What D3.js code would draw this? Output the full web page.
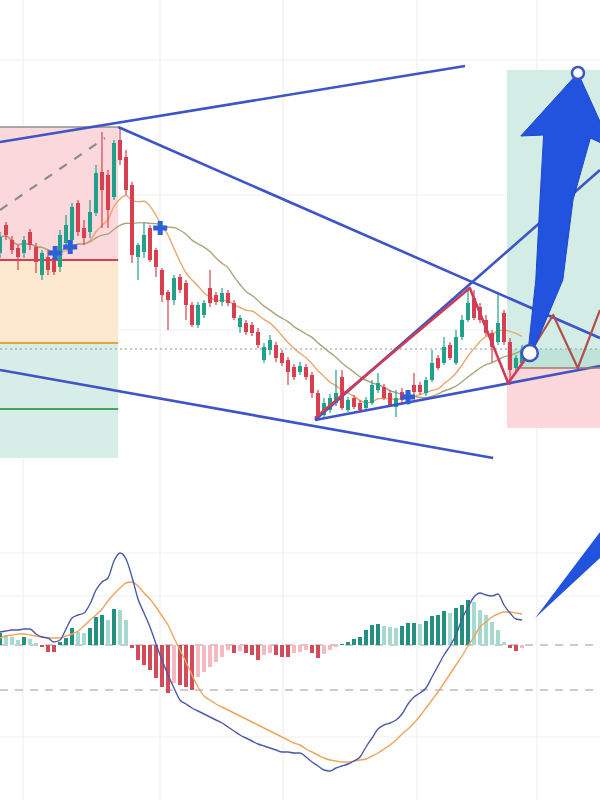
<!DOCTYPE html>
<html><head><meta charset="utf-8">
<script src="https://cdn.jsdelivr.net/npm/d3@7"></script>
<style>html,body{margin:0;padding:0;background:#fff;} svg{display:block;}</style>
</head><body><svg id="c" width="600" height="800"></svg>
<script>
// ---- candle data (price units) ----
const opens  = [247,275,260,252,247,268,253,225,243,242,233,257,260,297,272,268,287,328,325,303,360,343,315,243,248,272,250,230,208,200,223,217,195,175,185,212,205,198,207,197,173,177,175,168,140,150,155,147,140,133,128,133,125,107,85,90,97,123,90,102,97,92,97,110,113,107,93,108,98,115,115,107,120,142,137,155,137,163,180,202,193,180,167,158,187,158,132,137];
const highs  = [268,278,264,255,264,271,257,250,250,245,270,285,297,300,280,300,335,368,330,360,373,350,318,257,277,275,252,232,210,225,226,220,198,198,200,230,208,212,210,200,185,180,178,172,157,165,158,150,143,136,138,136,128,110,102,106,130,130,103,105,100,103,120,127,116,110,110,112,110,127,118,123,150,145,163,158,170,185,212,210,197,185,170,207,190,162,145,155];
const lows   = [242,260,246,230,242,250,227,220,225,225,228,252,257,264,255,262,284,272,272,300,335,305,237,220,242,238,223,198,170,195,207,180,173,172,182,193,195,194,194,180,167,165,164,152,137,145,138,134,115,120,125,120,102,82,82,87,94,90,88,91,88,90,95,107,100,93,83,96,95,104,105,104,118,130,135,140,135,160,178,180,177,164,138,155,155,115,128,134];
const closes = [263,265,250,243,260,255,238,247,230,228,265,275,293,268,262,288,327,310,290,357,340,310,245,255,265,240,233,205,200,222,210,195,175,195,197,197,198,207,197,182,182,168,167,155,153,160,142,137,128,123,134,123,107,85,97,102,107,92,100,93,90,100,115,117,102,95,102,100,107,108,108,120,137,132,153,142,163,180,197,182,180,167,153,177,158,130,142,150];
const maPeriods = [10, 20];

// ---- MACD data ----
const dif  = [13,14,15,15,16,16,11,8,7,3,5,16,27,30,32,41,55,63,67,84,92,86,68,46,32,18,1,-15,-30,-43,-55,-59,-63,-66,-69,-72,-75,-78,-82,-86,-90,-93,-96,-99,-101,-103,-105,-107,-107,-108,-108,-112,-117,-121,-125,-126,-123,-121,-119,-116,-112,-102,-93,-84,-80,-78,-75,-69,-59,-52,-48,-43,-32,-21,-10,-1,10,26,38,48,52,50,49,51,40,32,26,25];
const dea  = [7,9,10,11,11,10,9,8,7,7,7,9,11,14,19,25,30,36,44,51,57,62,63,59,52,46,38,29,20,7,-5,-17,-30,-42,-51,-55,-59,-62,-65,-68,-71,-74,-77,-80,-83,-86,-89,-92,-95,-98,-100,-104,-107,-110,-113,-115,-116,-117,-117,-116,-115,-114,-111,-108,-104,-100,-95,-89,-84,-78,-71,-63,-55,-47,-38,-29,-20,-11,-1,8,18,23,28,31,33,33,32,31];
const hist = [12,10,8,5,8,6,2,-2,-7,-7,3,7,17,13,12,17,28,30,25,36,35,25,-3,-15,-20,-25,-33,-42,-48,-38,-40,-42,-45,-32,-27,-22,-17,-12,-5,-8,-6,-8,-10,-15,-10,-8,-10,-12,-12,-8,-7,-5,-8,-13,-9,-5,-2,1,3,6,8,15,20,21,19,18,17,19,22,22,21,24,29,30,34,32,37,40,45,43,35,30,23,15,3,-3,-6,-3];
const macdLevels = [0, -45];

// ---- annotation anchors [index, price] ----
const gridX = [3.83, 26.67, 47.17, 69.5, 89.5];
const gridP = [440, 305, 170];
const gridM = [92, 49, -92];
const leftZoneX = [-5, 19.7];
const leftZones = [[240,373,"#fbd8db"],[157,240,"#fde9cf"],[42,157,"#d7ede7"]];
const leftLevels = [[373,"#8f8f8f",1.6],[240,"#d8404e",2.2],[157,"#eaa23a",2.2],[91,"#47a65a",2]];
const rightZoneX = [84.5, 105];
const rightZones = [[132,430,"#d4ece6"],[132,151,"#bfe3d9"],[72,132,"#fbd6da"]];
const dottedLevel = 151;
const blueLines = [
  [[0,358],[77.5,434]],
  [[19.7,373],[100,162]],
  [[0,130],[82.2,42]],
  [[52.5,80],[100,134]],
  [[52.5,80],[100,330]]
];
const dashedLine = [[0,290],[17.5,362]];
const redZig = [[52.5,82],[78.3,212],[84.7,117],[88.3,147]];
const brownZig = [[88.3,147],[92.2,185],[96.3,132],[100,190]];
const baseLine = [[86.7,132],[100,132]];
const crosses = [[9.2,247],[11.7,253],[26.7,272],[68,103]];
const arrowPoly = [[96.33,427],[102,352],[98.4,362],[95.5,300],[93.8,220],[88.9,150],[88.0,148],[89.3,220],[90.0,300],[90.6,365],[86.8,364]];
const circles = [[88.3,147,8],[96.33,427,6]];
const macdWedge = [[89.2,27],[100,113],[100,87]];

// ---- scales ----
const svg = d3.select("#c");
const x = d3.scaleLinear().domain([0,100]).range([0,600]);
const yP = d3.scaleLinear().domain([0,500]).range([500,0]);
const yM = d3.scaleLinear().domain([0,100]).range([645,545]);

svg.append("rect").attr("width",600).attr("height",800).attr("fill","#fff");
const defs = svg.append("defs");
defs.append("clipPath").attr("id","cp").append("rect").attr("x",0).attr("y",0).attr("width",600).attr("height",485);
defs.append("clipPath").attr("id","cm").append("rect").attr("x",0).attr("y",490).attr("width",600).attr("height",310);

// grid
const g = svg.append("g");
g.selectAll(".gx").data(gridX).join("line").attr("x1",d=>x(d)).attr("x2",d=>x(d)).attr("y1",0).attr("y2",800).attr("stroke","#ececec").attr("stroke-width",1);
g.selectAll(".gp").data(gridP).join("line").attr("x1",0).attr("x2",600).attr("y1",d=>yP(d)).attr("y2",d=>yP(d)).attr("stroke","#efefef");
g.selectAll(".gm").data(gridM).join("line").attr("x1",0).attr("x2",600).attr("y1",d=>yM(d)).attr("y2",d=>yM(d)).attr("stroke","#efefef");

const P = svg.append("g").attr("clip-path","url(#cp)");
// zones
P.selectAll(".lz").data(leftZones).join("rect")
  .attr("x",x(leftZoneX[0])).attr("width",x(leftZoneX[1])-x(leftZoneX[0]))
  .attr("y",d=>yP(d[1])).attr("height",d=>yP(d[0])-yP(d[1])).attr("fill",d=>d[2]);
P.selectAll(".rz").data(rightZones).join("rect")
  .attr("x",x(rightZoneX[0])).attr("width",x(rightZoneX[1])-x(rightZoneX[0]))
  .attr("y",d=>yP(d[1])).attr("height",d=>yP(d[0])-yP(d[1])).attr("fill",d=>d[2]);
P.selectAll(".ll").data(leftLevels).join("line")
  .attr("x1",x(leftZoneX[0])).attr("x2",x(leftZoneX[1]))
  .attr("y1",d=>yP(d[0])).attr("y2",d=>yP(d[0])).attr("stroke",d=>d[1]).attr("stroke-width",d=>d[2]);
P.append("line").attr("x1",0).attr("x2",600).attr("y1",yP(dottedLevel)).attr("y2",yP(dottedLevel))
  .attr("stroke","#8a9a9a").attr("stroke-width",1.2).attr("stroke-dasharray","2,3");

// moving averages
function sma(n){ return closes.map((c,i)=>{ const s=Math.max(0,i-n+1); const a=closes.slice(s,i+1); return d3.mean(a); }); }
const maColors = ["#eca66a","#a9a47e"];
const lineP = d3.line().x((d,i)=>x(i)).y(d=>yP(d)).curve(d3.curveMonotoneX);
maPeriods.forEach((n,k)=>{
  P.append("path").attr("d",lineP(sma(n))).attr("fill","none").attr("stroke",maColors[k]).attr("stroke-width",1.4);
});

// candles
const up="#21a08c", dn="#d9404f";
const cg = P.append("g");
const idx = d3.range(opens.length);
cg.selectAll(".w").data(idx).join("line")
  .attr("x1",i=>x(i)).attr("x2",i=>x(i)).attr("y1",i=>yP(highs[i])).attr("y2",i=>yP(lows[i]))
  .attr("stroke",i=>closes[i]>=opens[i]?up:dn).attr("stroke-width",1.2);
cg.selectAll(".b").data(idx).join("rect")
  .attr("x",i=>x(i)-2).attr("width",4)
  .attr("y",i=>yP(Math.max(opens[i],closes[i])))
  .attr("height",i=>Math.max(1.5,Math.abs(yP(opens[i])-yP(closes[i]))))
  .attr("fill",i=>closes[i]>=opens[i]?up:dn);

// trend lines
const lp = d3.line().x(d=>x(d[0])).y(d=>yP(d[1]));
P.append("path").attr("d",lp(dashedLine)).attr("fill","none").attr("stroke","#8c8c8c").attr("stroke-width",2.2).attr("stroke-dasharray","9,9");
blueLines.forEach(l=>P.append("path").attr("d",lp(l)).attr("fill","none").attr("stroke","#3d55c6").attr("stroke-width",2.6));
P.append("path").attr("d",lp(baseLine)).attr("fill","none").attr("stroke","#a07a6a").attr("stroke-width",1.5);
P.append("path").attr("d",lp(redZig)).attr("fill","none").attr("stroke","#cf3c57").attr("stroke-width",2.6).attr("stroke-linejoin","round");
P.append("path").attr("d",lp(brownZig)).attr("fill","none").attr("stroke","#b0504c").attr("stroke-width",2.2).attr("stroke-linejoin","round");

// crosses
crosses.forEach(c=>{
  const cx=x(c[0]), cy=yP(c[1]);
  P.append("rect").attr("x",cx-7).attr("y",cy-2.5).attr("width",14).attr("height",5).attr("fill","#2f5fd6");
  P.append("rect").attr("x",cx-2.5).attr("y",cy-7).attr("width",5).attr("height",14).attr("fill","#2f5fd6");
});

// arrow
P.append("path").attr("d",lp(arrowPoly)+"Z").attr("fill","#2153df").attr("stroke","#1d48c8").attr("stroke-width",1).attr("stroke-linejoin","round");
circles.forEach(c=>P.append("circle").attr("cx",x(c[0])).attr("cy",yP(c[1])).attr("r",c[2]).attr("fill","#fff").attr("stroke","#3a56c4").attr("stroke-width",2.5));

// ---- MACD pane ----
const M = svg.append("g").attr("clip-path","url(#cm)");
M.selectAll(".lv").data(macdLevels).join("line").attr("x1",0).attr("x2",600)
  .attr("y1",d=>yM(d)).attr("y2",d=>yM(d)).attr("stroke","#9a9a9a").attr("stroke-width",1.2).attr("stroke-dasharray","8,7");
function hc(i){ const v=hist[i], p=i>0?hist[i-1]:0;
  if(v>=0) return v>=p?"#238f80":"#a6d9d0";
  return v<=p?"#d24b59":"#f5b9c1"; }
M.selectAll(".h").data(idx).join("rect")
  .attr("x",i=>x(i)-2).attr("width",4)
  .attr("y",i=>yM(Math.max(0,hist[i]))).attr("height",i=>Math.abs(yM(hist[i])-yM(0)))
  .attr("fill",hc);
const lm = d3.line().x((d,i)=>x(i)).y(d=>yM(d)).curve(d3.curveMonotoneX);
M.append("path").attr("d",lm(dea)).attr("fill","none").attr("stroke","#eea55a").attr("stroke-width",1.4);
M.append("path").attr("d",lm(dif)).attr("fill","none").attr("stroke","#4a5aa8").attr("stroke-width",1.4);
const lw = d3.line().x(d=>x(d[0])).y(d=>yM(d[1]));
M.append("path").attr("d",lw(macdWedge)+"Z").attr("fill","#2153df");
</script></body></html>
